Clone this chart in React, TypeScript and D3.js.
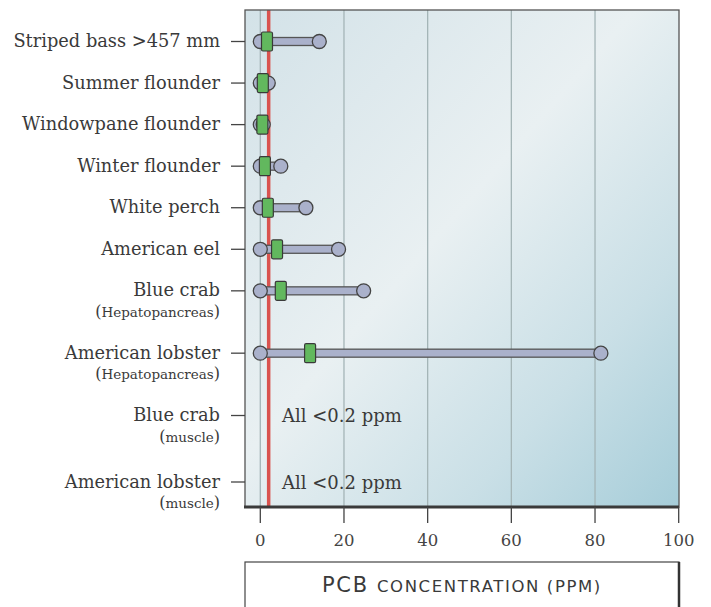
import React from "react";
import * as d3 from "d3";

const categories = [
  "Striped bass >457 mm",
  "Summer flounder",
  "Windowpane flounder",
  "Winter flounder",
  "White perch",
  "American eel",
  "Blue crab",
  "American lobster",
  "Blue crab",
  "American lobster",
];
const subLabels = ["", "", "", "", "", "", "Hepatopancreas", "Hepatopancreas", "muscle", "muscle"];
const rowUnits = [0, 1, 2, 3, 4, 5, 6, 7.5, 9, 10.6];
const minVals: (number | null)[] = [0, 0, 0, 0, 0, 0, 0, 0, null, null];
const meanVals: (number | null)[] = [1.6, 0.6, 0.5, 1.1, 1.8, 4.0, 4.9, 11.9, null, null];
const maxVals: (number | null)[] = [14.1, 1.9, 0.7, 4.9, 10.9, 18.7, 24.7, 81.4, null, null];
const notes = ["", "", "", "", "", "", "", "", "All <0.2 ppm", "All <0.2 ppm"];
const xTicks = [0, 20, 40, 60, 80, 100];
const gridVals = [0, 20, 40, 60, 80];
const limitValue = 2;

export default function App() {
  const W = 711, H = 607;
  const boxL = 245, boxR = 679, boxT = 10, boxB = 507;
  const x = d3.scaleLinear().domain([0, 100]).range([260.3, 678.7]);
  const y = d3.scaleLinear().domain([0, 10.6]).range([41.5, 482]);
  const serif = "'DejaVu Serif', serif";
  const sans = "'DejaVu Sans', sans-serif";
  return (
    <svg width={W} height={H} style={{ position: "absolute", left: 0, top: 0 }}>
      <defs>
        <linearGradient id="bg" x1="0" y1="0" x2="1" y2="1">
          <stop offset="0" stopColor="#d3e2e8" />
          <stop offset="0.45" stopColor="#e9f0f2" />
          <stop offset="0.75" stopColor="#c9dfe6" />
          <stop offset="1" stopColor="#a6cdd9" />
        </linearGradient>
      </defs>
      <rect x={boxL} y={boxT} width={boxR - boxL} height={boxB - boxT} fill="url(#bg)" />
      {gridVals.map((v) => (
        <line key={v} x1={x(v)} x2={x(v)} y1={boxT} y2={boxB} stroke="#a4b5b7" strokeWidth={1.3} />
      ))}
      <line x1={x(limitValue)} x2={x(limitValue)} y1={boxT} y2={boxB} stroke="#d9534f" strokeWidth={3.5} />
      <rect x={boxL} y={boxT} width={boxR - boxL} height={boxB - boxT} fill="none" stroke="#555" strokeWidth={1.3} />
      <line x1={boxL - 1} x2={boxR} y1={boxB} y2={boxB} stroke="#3a3a3a" strokeWidth={3} />
      {xTicks.map((v) => (
        <g key={v}>
          <line x1={x(v)} x2={x(v)} y1={boxB} y2={523} stroke="#444" strokeWidth={1.3} />
          <text x={x(v)} y={546} textAnchor="middle" fontFamily={serif} fontSize={16.5} fill="#444">{v}</text>
        </g>
      ))}
      {categories.map((c, i) => {
        const cy = y(rowUnits[i]);
        const mn = minVals[i], mx = maxVals[i], me = meanVals[i];
        return (
          <g key={i}>
            <line x1={231} x2={boxL} y1={cy} y2={cy} stroke="#444" strokeWidth={1.3} />
            <text x={220} y={cy + 5.5} textAnchor="end" fontFamily={serif} fontSize={17.8} fill="#3a3a3a">{c}</text>
            {subLabels[i] && (
              <text x={220} y={cy + 26} textAnchor="end" fontFamily={serif} fill="#3a3a3a">
                <tspan fontSize={16}>(</tspan>
                <tspan fontSize={13.5}>{subLabels[i]}</tspan>
                <tspan fontSize={16}>)</tspan>
              </text>
            )}
            {mn !== null && mx !== null && (
              <g>
                <rect x={x(mn)} y={cy - 4} width={x(mx) - x(mn)} height={8} fill="#aab1cb" stroke="#555" strokeWidth={1.3} />
                <circle cx={x(mn)} cy={cy} r={7} fill="#aab1cb" stroke="#444" strokeWidth={1.3} />
                <circle cx={x(mx)} cy={cy} r={7} fill="#aab1cb" stroke="#444" strokeWidth={1.3} />
              </g>
            )}
            {me !== null && (
              <rect x={x(me) - 5.5} y={cy - 9.5} width={11} height={19} rx={1.5} fill="#62b85e" stroke="#3a3a3a" strokeWidth={1.2} />
            )}
            {notes[i] && (
              <text x={282} y={cy + 6.5} fontFamily={serif} fontSize={18} fill="#3a3a3a">{notes[i]}</text>
            )}
          </g>
        );
      })}
      <rect x={boxL} y={562} width={boxR - boxL} height={60} fill="#fff" stroke="#444" strokeWidth={1.2} />
      <line x1={boxR} x2={boxR} y1={562} y2={H} stroke="#333" strokeWidth={2.5} />
      <text x={(boxL + boxR) / 2} y={592} textAnchor="middle" fontFamily={sans} fill="#3a3a3a" letterSpacing={1.6}>
        <tspan fontSize={21}>PCB </tspan>
        <tspan fontSize={16.5}>CONCENTRATION (PPM)</tspan>
      </text>
    </svg>
  );
}
